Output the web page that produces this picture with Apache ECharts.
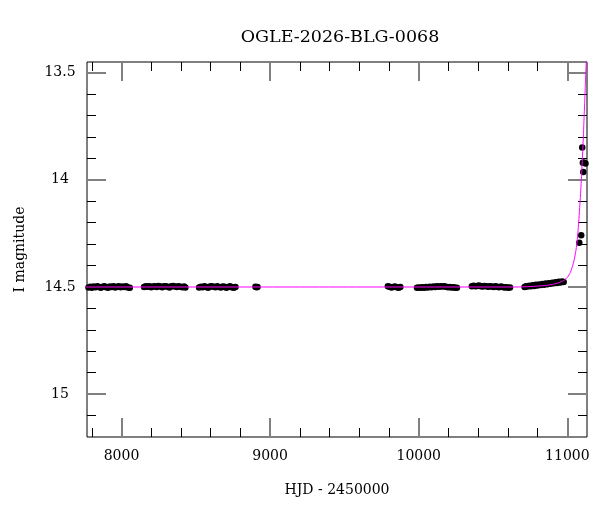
<!DOCTYPE html>
<html>
<head>
<meta charset="utf-8">
<script src="https://cdn.jsdelivr.net/npm/echarts@6/dist/echarts.min.js"></script>
<style>html,body{margin:0;padding:0;background:#fff;}#c{width:600px;height:512px;}</style>
</head>
<body>
<div id="c"></div>
<script>
// ---- Data ----
const chartTitle = 'OGLE-2026-BLG-0068';
const xName = 'HJD - 2450000';
const yName = 'I magnitude';
const xRange = [7768, 11132];
const yRange = [13.45, 15.2];
const xMajorTicks = [8000, 9000, 10000, 11000];
const xMinorTicks = [7800, 8200, 8400, 8600, 8800, 9200, 9400, 9600, 9800, 10200, 10400, 10600, 10800];
const yMajorTicks = [13.5, 14, 14.5, 15];
const yMinorTicks = [13.6, 13.7, 13.8, 13.9, 14.1, 14.2, 14.3, 14.4, 14.6, 14.7, 14.8, 14.9, 15.1];

// observations (HJD-2450000, I mag)
const obsHjd = [
  7778, 7790, 7801, 7813, 7826, 7838, 7850, 7861, 7874, 7886, 7897, 7910, 7922, 7935, 7947, 7958, 7971, 7983, 7995, 8007, 8019, 8031, 8043, 8056,
  8152, 8164, 8176, 8188, 8200, 8213, 8225, 8237, 8249, 8262, 8274, 8286, 8298, 8311, 8323, 8335, 8347, 8360, 8372, 8384, 8396, 8409, 8421, 8430,
  8522, 8534, 8546, 8558, 8571, 8583, 8595, 8607, 8620, 8632, 8644, 8656, 8669, 8681, 8693, 8705, 8718, 8730, 8742, 8755, 8767,
  8901, 8908, 8915,
  9792, 9804, 9816, 9828, 9840, 9852, 9864, 9876,
  9988, 10000, 10012, 10024, 10037, 10049, 10061, 10073, 10086, 10098, 10110, 10122, 10135, 10147, 10159, 10171, 10184, 10196, 10208, 10220, 10233, 10245, 10257,
  10357, 10369, 10381, 10393, 10406, 10418, 10430, 10442, 10455, 10467, 10479, 10491, 10504, 10516, 10528, 10540, 10553, 10565, 10577, 10589, 10602, 10614,
  10712, 10722, 10733, 10744, 10755, 10766, 10777, 10788, 10799, 10810, 10821, 10832, 10843, 10854, 10865, 10876, 10887, 10898, 10909, 10920, 10931, 10942, 10953, 10964, 10975,
  11080, 11093, 11100, 11104, 11107, 11111, 11122
];
const obsMag = [
  14.502, 14.499, 14.503, 14.498, 14.501, 14.497, 14.500, 14.503, 14.499, 14.496, 14.501, 14.504, 14.498, 14.500, 14.497, 14.502, 14.499, 14.496, 14.501, 14.498, 14.500, 14.497, 14.502, 14.503,
  14.500, 14.497, 14.499, 14.496, 14.501, 14.498, 14.497, 14.500, 14.495, 14.498, 14.501, 14.497, 14.496, 14.499, 14.502, 14.497, 14.495, 14.498, 14.500, 14.497, 14.499, 14.501, 14.498, 14.502,
  14.502, 14.499, 14.501, 14.497, 14.500, 14.503, 14.498, 14.496, 14.499, 14.501, 14.497, 14.500, 14.502, 14.498, 14.499, 14.503, 14.500, 14.497, 14.501, 14.503, 14.500,
  14.499, 14.501, 14.500,
  14.497, 14.499, 14.502, 14.500, 14.498, 14.501, 14.503, 14.500,
  14.503, 14.502, 14.504, 14.501, 14.503, 14.500, 14.502, 14.499, 14.501, 14.498, 14.500, 14.497, 14.499, 14.496, 14.498, 14.497, 14.499, 14.501, 14.500, 14.502, 14.501, 14.503, 14.504,
  14.496, 14.494, 14.497, 14.495, 14.493, 14.496, 14.498, 14.495, 14.497, 14.499, 14.496, 14.498, 14.500, 14.497, 14.499, 14.501, 14.498, 14.500, 14.502, 14.501, 14.503, 14.502,
  14.500, 14.496, 14.498, 14.494, 14.497, 14.492, 14.495, 14.490, 14.493, 14.488, 14.491, 14.486, 14.489, 14.484, 14.487, 14.482, 14.485, 14.480, 14.483, 14.478, 14.481, 14.476, 14.479, 14.474, 14.477,
  14.294, 14.259, 13.849, 13.920, 13.963, 13.919, 13.924
];

// model light curve
const modelHjd = [7700, 10650, 10750, 10850, 10900, 10950, 10980, 11000, 11020, 11040, 11055, 11065, 11072, 11078, 11084, 11090, 11095, 11100, 11104, 11108, 11112, 11116, 11120, 11124, 11127, 11130, 11134];
const modelMag = [14.5, 14.5, 14.498, 14.493, 14.488, 14.478, 14.468, 14.455, 14.432, 14.39, 14.34, 14.29, 14.235, 14.18, 14.115, 14.05, 13.985, 13.915, 13.855, 13.79, 13.715, 13.645, 13.575, 13.505, 13.45, 13.39, 13.3];

// ---- Chart ----
const FONT = 'DejaVu Serif';
const obs = obsHjd.map((x, i) => [x, obsMag[i]]);
const model = modelHjd.map((x, i) => [x, modelMag[i]]);

function xAxisDef(pos, ticks, len, color, width, labels) {
  return {
    type: 'value', position: pos, min: xRange[0], max: xRange[1],
    axisLine: { show: false }, splitLine: { show: false },
    axisTick: { show: true, inside: true, length: len, customValues: ticks, lineStyle: { color: color, width: width } },
    axisLabel: labels ? { show: true, customValues: xMajorTicks, margin: 12, color: '#000', fontFamily: FONT, fontSize: 14,
      formatter: v => String(v) } : { show: false },
    name: labels ? xName : '', nameLocation: 'middle', nameGap: 46,
    nameTextStyle: { color: '#000', fontFamily: FONT, fontSize: 14 }
  };
}
function yAxisDef(pos, ticks, len, color, width, labels) {
  return {
    type: 'value', position: pos, inverse: true, min: yRange[0], max: yRange[1],
    axisLine: { show: false }, splitLine: { show: false },
    axisTick: { show: true, inside: true, length: len, customValues: ticks, lineStyle: { color: color, width: width } },
    axisLabel: labels ? { show: true, customValues: yMajorTicks, margin: 27, align: 'center', color: '#000', fontFamily: FONT, fontSize: 14,
      padding: [4, 0, 0, 0], formatter: v => String(v) } : { show: false },
    name: labels ? yName : '', nameLocation: 'middle', nameGap: 60, nameRotate: 90,
    nameTextStyle: { color: '#000', fontFamily: FONT, fontSize: 14 }
  };
}

const chart = echarts.init(document.getElementById('c'), null, { renderer: 'canvas' });
chart.setOption({
  animation: false,
  backgroundColor: '#fff',
  title: {
    text: chartTitle, left: 335, top: 23, textAlign: 'center',
    textStyle: { fontFamily: FONT, fontSize: 17.5, fontWeight: 'normal', color: '#000' }
  },
  grid: { left: 87, right: 13, top: 62, bottom: 75, show: true, borderColor: '#000', borderWidth: 1, backgroundColor: 'transparent' },
  xAxis: [
    xAxisDef('bottom', xMajorTicks, 19, '#808080', 2, true),
    xAxisDef('bottom', xMinorTicks, 9, '#000', 1, false),
    xAxisDef('top', xMajorTicks, 19, '#808080', 2, false),
    xAxisDef('top', xMinorTicks, 9, '#000', 1, false)
  ],
  yAxis: [
    yAxisDef('left', yMajorTicks, 19, '#808080', 2, true),
    yAxisDef('left', yMinorTicks, 9, '#000', 1, false),
    yAxisDef('right', yMajorTicks, 19, '#808080', 2, false),
    yAxisDef('right', yMinorTicks, 9, '#000', 1, false)
  ],
  series: [
    {
      type: 'scatter', data: obs, xAxisIndex: 0, yAxisIndex: 0,
      symbol: 'circle', symbolSize: 6.5, itemStyle: { color: '#000', opacity: 1 }, z: 2
    },
    {
      type: 'line', data: model, xAxisIndex: 0, yAxisIndex: 0, showSymbol: false, smooth: 0.2,
      clip: true, lineStyle: { color: '#ff00ff', width: 1 }, z: 3
    }
  ]
});
</script>
</body>
</html>
